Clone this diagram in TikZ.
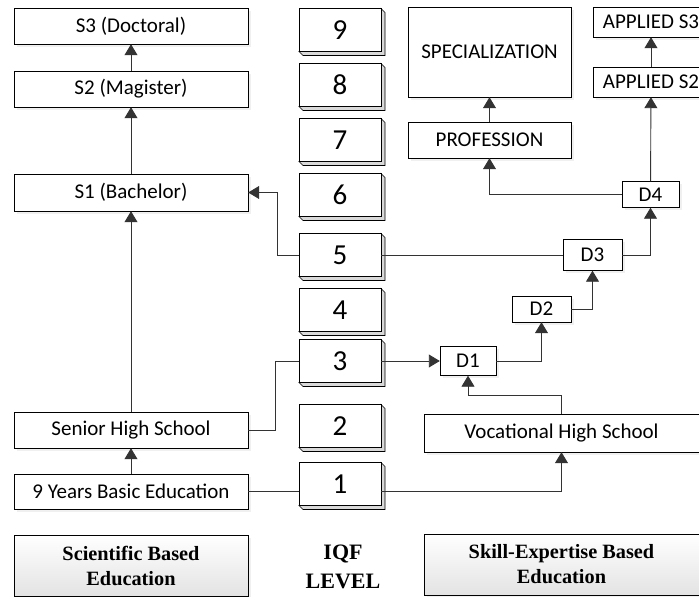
\documentclass[tikz,border=0pt]{standalone}
\usepackage{fontspec}
\setmainfont{Carlito}
\newfontfamily\serifbold{Liberation Serif}
\usepackage{tikz}
\usetikzlibrary{arrows.meta, positioning, shadows}

\begin{document}
\begin{tikzpicture}[
    x=1pt, y=-1pt,
    box/.style={draw, rectangle, inner sep=0pt, minimum width=234pt, minimum height=36pt,
        fill=white, font=\fontsize{21}{25}\selectfont,
        drop shadow={shadow xshift=2.5pt, shadow yshift=-2.5pt, opacity=0.12}},
    dbox/.style={box, minimum width=57pt, minimum height=26pt},
    level/.style={draw, rectangle, inner sep=0pt, minimum width=82pt, minimum height=43pt,
        fill=white, font=\fontsize{29}{30}\selectfont},
    bevel/.style={draw, line width=0.6pt, fill=gray!30},
    labelbox/.style={draw, rectangle, inner sep=0pt, minimum width=234pt, minimum height=61pt,
        top color=white, bottom color=gray!22, align=center,
        font=\serifbold\bfseries\fontsize{20.3}{25}\selectfont,
        drop shadow={shadow xshift=2.5pt, shadow yshift=-2.5pt, opacity=0.12}},
    arrow/.style={-{Triangle[length=11pt, width=13pt]}, line width=0.9pt, draw=black!80},
    line/.style={line width=0.9pt, draw=black!80}
]
\useasboundingbox (0,0) rectangle (699,597);

% IQF levels
\foreach \n/\yy in {9/30, 8/85, 7/140, 6/195, 5/255, 4/310, 3/361, 2/426, 1/484} {
    \draw[bevel] (340+41,\yy-21.5) -- ++(4,4) -- (340+45,\yy+25.5) -- (340-37,\yy+25.5)
        -- (340-41,\yy+21.5) -- (340+41,\yy+21.5) -- cycle;
    \node[level] (l\n) at (340,\yy) {\n};
}

% Scientific based education
\node[box] (s3) at (131,26) {S3 (Doctoral)};
\node[box] (s2) at (131,89) {S2 (Magister)};
\node[box, minimum height=37pt] (s1) at (131,192.5) {S1 (Bachelor)};
\node[box] (senior) at (131,430) {Senior High School};
\node[box, minimum height=35pt] (basic) at (131,491.5) {9 Years Basic Education};
\node[labelbox] (sci) at (131,565.5) {Scientific Based\\Education};

% Skill-expertise based education
\node[box, minimum width=163pt, minimum height=90pt] (spec) at (489.5,52) {SPECIALIZATION};
\node[box, minimum width=163pt] (prof) at (489.5,140) {PROFESSION};
\node[box, minimum width=116pt, minimum height=30pt] (ap3) at (651,22) {APPLIED S3};
\node[box, minimum width=116pt, minimum height=30pt] (ap2) at (651,82) {APPLIED S2};
\node[dbox] (d4) at (650.5,194.5) {D4};
\node[dbox, minimum width=59pt, minimum height=31pt] (d3) at (592.5,255) {D3};
\node[dbox, minimum width=59pt] (d2) at (541.5,309) {D2};
\node[dbox, minimum width=56pt, minimum height=29pt] (d1) at (468,361) {D1};
\node[box, minimum width=275pt, minimum height=38pt] (voc) at (561.5,433) {Vocational High School};
\node[labelbox, minimum width=275pt] (skill) at (561.5,564.5) {Skill-Expertise Based\\Education};

\node[align=center, font=\serifbold\bfseries\fontsize{22}{29}\selectfont] (iqf) at (343,567) {IQF\\LEVEL};

% Arrows
\draw[arrow] (s2) -- (s3);
\draw[arrow] (s1) -- (s2);
\draw[arrow] (senior) -- (s1);
\draw[arrow] (basic) -- (senior);
\draw[line] (senior.east) -- ++(27,0) |- (l3);
\draw[arrow] (l5.west) -- ++(-21,0) |- (s1);
\draw[line] (basic) -- (basic -| l1.west);
\draw[arrow] (basic -| l1.east) -| (voc);
\draw[arrow] (l3) -- (d1);
\draw[arrow] (voc.north) -- ++(0,-18) -| (d1);
\draw[arrow] (d1) -| (d2);
\draw[arrow] (d2) -| (d3);
\draw[line] (l5) -- (d3);
\draw[arrow] (d3) -| (d4);
\draw[arrow] (d4) -| (prof);
\draw[arrow] (d4) -- (ap2);
\draw[arrow] (ap2) -- (ap3);
\draw[arrow] (prof) -- (spec);

\end{tikzpicture}
\end{document}
